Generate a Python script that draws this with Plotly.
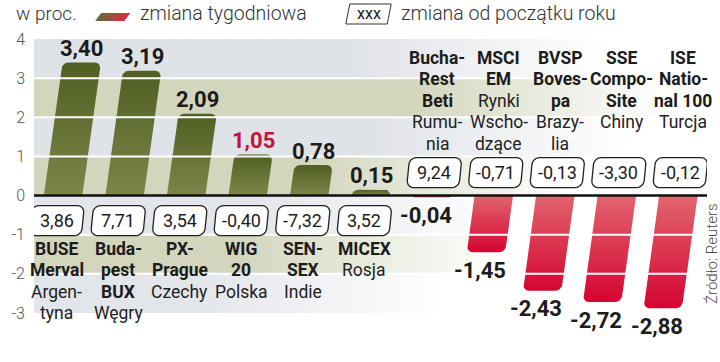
import math
import plotly.graph_objects as go

# ---------------- data ----------------
categories = ["BUSE Merval", "Budapest BUX", "PX-Prague", "WIG 20", "SENSEX", "MICEX",
              "BucharestBeti", "MSCI EM", "BVSP Bovespa", "SSE Composite", "ISE National 100"]
weekly = [3.40, 3.19, 2.09, 1.05, 0.78, 0.15, -0.04, -1.45, -2.43, -2.72, -2.88]
ytd = [3.86, 7.71, 3.54, -0.40, -7.32, 3.52, 9.24, -0.71, -0.13, -3.30, -0.12]
bold_lines = [["BUSE", "Merval"], ["Buda-", "pest", "BUX"], ["PX-", "Prague"], ["WIG", "20"],
              ["SEN-", "SEX"], ["MICEX"], ["Bucha-", "Rest", "Beti"], ["MSCI", "EM"],
              ["BVSP", "Boves-", "pa"], ["SSE", "Compo-", "Site"], ["ISE", "Natio-", "nal 100"]]
plain_lines = [["Argen-", "tyna"], ["Węgry"], ["Czechy"], ["Polska"], ["Indie"], ["Rosja"],
               ["Rumu-", "nia"], ["Rynki", "Wscho-", "dzące"], ["Brazy-", "lia"], ["Chiny"], ["Turcja"]]
highlight = "WIG 20"
y_ticks = [-3, -2, -1, 0, 1, 2, 3, 4]
legend_weekly = "zmiana tygodniowa"
legend_ytd = "zmiana od początku roku"
unit_label = "w proc."
source_label = "Źródło: Reuters"

# ---------------- geometry ----------------
W, H = 720, 362
ML, MR, MT, MB = 25, 13, 39, 49
PW, PH = W - ML - MR, H - MT - MB
YR = [-3, 4]
PPY = PH / (YR[1] - YR[0])
PPX = 62.35
X0 = -29.5 / PPX
XR = [X0, X0 + PW / PPX]
SLANT = 5.5 / 39.0  # horizontal px per vertical px

FONT = "Roboto, 'Open Sans', sans-serif"
DARK = "#1c1c1c"


def fmt(v):
    return f"{v:.2f}".replace(".", ",")


def px2paper(px, py):
    return (px - ML) / PW, (MT + PH - py) / PH


fig = go.Figure()

# ---------------- background bands (fading to the right) ----------------
band_colors = ["#dfe2e7", "#d3d6bd", "#dfe2e7", "#d3d6bd", "#e2e5ea", "#d3d6bd", "#e2e5ea"]
band_fade_end = [600, 660, 620, 560, 500, 490, 440]
tops = list(range(YR[1], YR[0], -1))
for top, col, fe in zip(tops, band_colors, band_fade_end):
    r, g, b = int(col[1:3], 16), int(col[3:5], 16), int(col[5:7], 16)
    fig.add_trace(go.Scatter(
        x=[XR[0], XR[1], XR[1], XR[0], XR[0]],
        y=[top, top, top - 1, top - 1, top],
        mode="lines", line=dict(width=0, color="rgba(0,0,0,0)"), fill="toself",
        fillgradient=dict(type="horizontal",
                          colorscale=[[0, f"rgba({r},{g},{b},1)"], [1, f"rgba({r},{g},{b},0)"]],
                          start=X0 + (fe - 260 - ML) / PPX, stop=X0 + (fe - ML) / PPX),
        hoverinfo="skip", showlegend=False))

# ---------------- bars (slanted, rounded ends) ----------------
HW = 19.5
RAD = 6.0
for i, v in enumerate(weekly):
    hpx = abs(v) * PPY
    sg = 1 if v >= 0 else -1
    r = min(RAD, hpx)
    pts = [(-HW, 0.0), (-HW, hpx - r)]
    for a in range(180, 89, -15):
        t = math.radians(a)
        pts.append((-HW + r + r * math.cos(t), hpx - r + r * math.sin(t)))
    for a in range(90, -1, -15):
        t = math.radians(a)
        pts.append((HW - r + r * math.cos(t), hpx - r + r * math.sin(t)))
    pts.append((HW, 0.0))
    xs, ys = [], []
    for ub, wa in pts:
        w = sg * wa
        u = ub + SLANT * w
        xs.append(i + u / PPX)
        ys.append(w / PPY)
    xs.append(xs[0]); ys.append(ys[0])
    if v >= 0:
        cs = [[0, "#7b864a"], [1, "#515f23"]]
    else:
        cs = [[0, "#d40531"], [1, "#e2646f"]]
    fig.add_trace(go.Scatter(
        x=xs, y=ys, mode="lines", line=dict(width=0, color="rgba(0,0,0,0)"), fill="toself",
        fillgradient=dict(type="vertical", colorscale=cs),
        hoverinfo="skip", showlegend=False))

shapes = []
annotations = []

# grid lines (white, above bars) and zero line
for t in y_ticks:
    if t in (0, YR[0], YR[1]):
        continue
    shapes.append(dict(type="line", xref="paper", yref="y", x0=0, x1=1, y0=t, y1=t,
                       line=dict(color="white", width=2), layer="above"))
shapes.append(dict(type="line", xref="paper", yref="y", x0=0, x1=1, y0=0, y1=0,
                   line=dict(color="#111111", width=2.5), layer="above"))


def box_path(cx_data, cy_px_from_zero, w=53, h=30, rad=7, sl=0.1):
    pts = []
    hw, hh = w / 2, h / 2
    corners = [(hw - rad, hh - rad, 0, 90), (-hw + rad, hh - rad, 90, 180),
               (-hw + rad, -hh + rad, 180, 270), (hw - rad, -hh + rad, 270, 360)]
    for ccx, ccy, a0, a1 in corners:
        for a in range(a0, a1 + 1, 15):
            t = math.radians(a)
            pts.append((ccx + rad * math.cos(t), ccy + rad * math.sin(t)))
    out = []
    for u, w_ in pts:
        uu = u + sl * w_
        out.append((cx_data + uu / PPX, (cy_px_from_zero + w_) / PPY))
    return "M " + " L ".join(f"{a:.4f},{b:.4f}" for a, b in out) + " Z"


LINE = 21.6
PLAIN = "#222222"
for i, (v, yv, bl, pl, cat) in enumerate(zip(weekly, ytd, bold_lines, plain_lines, categories)):
    lines = [(s, True) for s in bl] + [(s, False) for s in pl]
    if v > 0:
        annotations.append(dict(x=i + SLANT * v * PPY / PPX, y=v, yshift=14, xref="x", yref="y",
                                text=fmt(v), showarrow=False, xanchor="center", yanchor="middle",
                                font=dict(family=FONT, size=22, weight=700,
                                          color="#c8103c" if cat == highlight else DARK)))
        bx = i - 6.5 / PPX
        shapes.append(dict(type="path", xref="x", yref="y", path=box_path(bx, -25),
                           line=dict(color="#222222", width=1.3), fillcolor="white", layer="above"))
        annotations.append(dict(x=bx, y=0, yshift=-25, xref="x", yref="y", text=fmt(yv),
                                showarrow=False, xanchor="center", yanchor="middle",
                                font=dict(family=FONT, size=18, color=DARK)))
        for k, (s, b) in enumerate(lines):
            annotations.append(dict(x=bx, y=0, yshift=-53 - k * LINE, xref="x", yref="y", text=s,
                                    showarrow=False, xanchor="center", yanchor="middle",
                                    font=dict(family=FONT, size=17.5 if b else 17.5, weight=700 if b else 400,
                                              color=DARK if b else PLAIN)))
    else:
        annotations.append(dict(x=i + SLANT * v * PPY / PPX - 6 / PPX, y=v, yshift=-18,
                                xref="x", yref="y", text=fmt(v), showarrow=False,
                                xanchor="center", yanchor="middle",
                                font=dict(family=FONT, size=22, weight=700, color=DARK)))
        bx = i + 2 / PPX
        shapes.append(dict(type="path", xref="x", yref="y", path=box_path(bx, 23),
                           line=dict(color="#222222", width=1.3), fillcolor="white", layer="above"))
        annotations.append(dict(x=bx, y=0, yshift=23, xref="x", yref="y", text=fmt(yv),
                                showarrow=False, xanchor="center", yanchor="middle",
                                font=dict(family=FONT, size=18, color=DARK)))
        for k, (s, b) in enumerate(lines):
            annotations.append(dict(x=i + 5 / PPX, y=0, yshift=138 - k * LINE, xref="x", yref="y",
                                    text=s, showarrow=False, xanchor="center", yanchor="middle",
                                    font=dict(family=FONT, size=17.5 if b else 17.5, weight=700 if b else 400,
                                              color=DARK if b else PLAIN)))

# ---------------- legend ----------------
lx, ly = px2paper(5, 13)
annotations.append(dict(x=lx, y=ly, xref="paper", yref="paper", text=unit_label, showarrow=False,
                        xanchor="left", yanchor="middle",
                        font=dict(family=FONT, size=19, weight=300, color="#333333")))
n = 14
c0 = (95, 108, 52)
c1 = (226, 40, 62)
sx0, sx1, sy0, sy1 = 87, 116, 21, 13
for j in range(n):
    f0, f1 = j / n, (j + 1) / n
    tcol = tuple(int(c0[q] + (c1[q] - c0[q]) * (f0 + f1) / 2) for q in range(3))
    xa, xb = sx0 + (sx1 - sx0) * f0, sx0 + (sx1 - sx0) * f1
    p1 = px2paper(xa, sy0); p2 = px2paper(xb + 0.6, sy0)
    p3 = px2paper(xb + 0.6 + 6, sy1); p4 = px2paper(xa + 6, sy1)
    shapes.append(dict(type="path", xref="paper", yref="paper",
                       path=f"M {p1[0]},{p1[1]} L {p2[0]},{p2[1]} L {p3[0]},{p3[1]} L {p4[0]},{p4[1]} Z",
                       fillcolor=f"rgb{tcol}", line=dict(width=0), layer="above"))
lx, ly = px2paper(130, 13)
annotations.append(dict(x=lx, y=ly, xref="paper", yref="paper", text=legend_weekly, showarrow=False,
                        xanchor="left", yanchor="middle",
                        font=dict(family=FONT, size=19.5, weight=300, color="#333333")))
bpts = [(341, 24), (383, 24), (387, 4), (345, 4)]
q = [px2paper(a, b) for a, b in bpts]
shapes.append(dict(type="path", xref="paper", yref="paper",
                   path="M " + " L ".join(f"{a},{b}" for a, b in q) + " Z",
                   line=dict(color="#333333", width=1), fillcolor="white", layer="above"))
lx, ly = px2paper(364, 14)
annotations.append(dict(x=lx, y=ly, xref="paper", yref="paper", text="xxx", showarrow=False,
                        xanchor="center", yanchor="middle",
                        font=dict(family=FONT, size=16, color="#222222")))
lx, ly = px2paper(395, 13)
annotations.append(dict(x=lx, y=ly, xref="paper", yref="paper", text=legend_ytd, showarrow=False,
                        xanchor="left", yanchor="middle",
                        font=dict(family=FONT, size=19.5, weight=300, color="#333333")))
lx, ly = px2paper(712, 253)
annotations.append(dict(x=lx, y=ly, xref="paper", yref="paper", text=source_label, showarrow=False,
                        textangle=-90, xanchor="center", yanchor="middle",
                        font=dict(family=FONT, size=15, weight=300, color="#444444")))

fig.update_layout(
    width=W, height=H, margin=dict(l=ML, r=MR, t=MT, b=MB, pad=0),
    paper_bgcolor="white", plot_bgcolor="white", showlegend=False,
    xaxis=dict(range=XR, visible=False, fixedrange=True),
    yaxis=dict(range=YR, tickvals=y_ticks, ticktext=[str(t) for t in y_ticks],
               showgrid=False, zeroline=False, showline=False, ticks="",
               ticklabelstandoff=8,
               tickfont=dict(family=FONT, size=16, weight=300, color="#555555"), fixedrange=True),
    shapes=shapes, annotations=annotations,
)

fig.write_html("out.html")
